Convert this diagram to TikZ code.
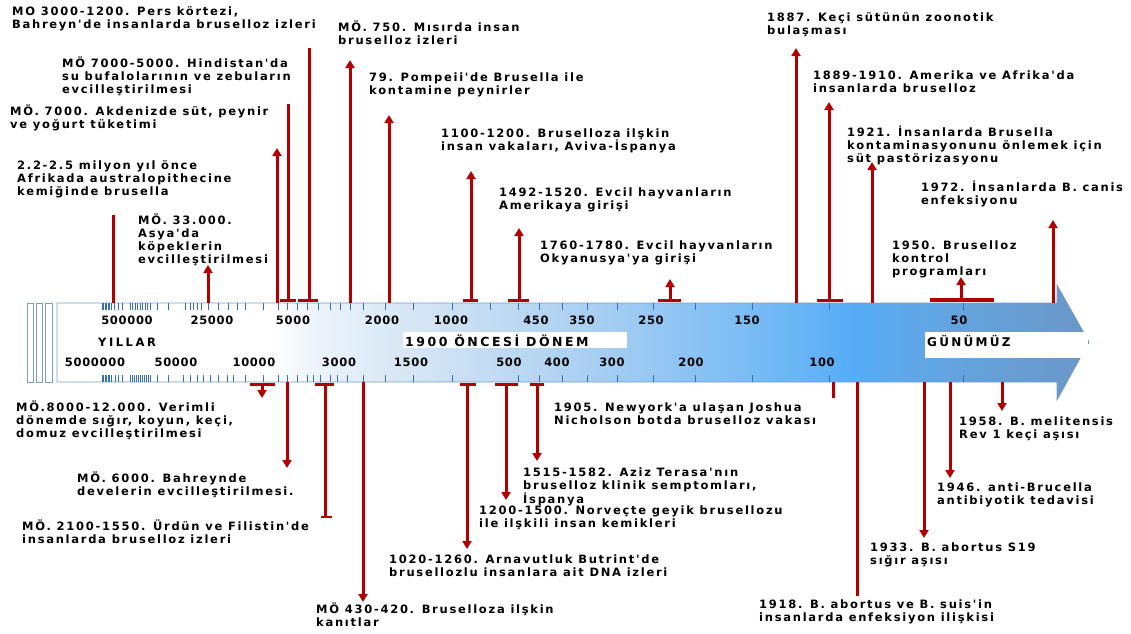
\documentclass[tikz,border=0pt]{standalone}
\usepackage{fontspec}
\setmainfont{DejaVu Sans}[Ligatures=TeXOff]
\newfontfamily\lblfamily{DejaVu Sans}[LetterSpace=15,Ligatures=TeXOff]
\newfontfamily\tickfamily{DejaVu Sans}[LetterSpace=6,Ligatures=TeXOff]
\newfontfamily\yilfamily{DejaVu Sans}[LetterSpace=22,Ligatures=TeXOff]
\newfontfamily\capAfamily{DejaVu Sans}[LetterSpace=19,Ligatures=TeXOff]
\newfontfamily\capBfamily{DejaVu Sans}[LetterSpace=20,Ligatures=TeXOff]
\usetikzlibrary{arrows.meta}
\definecolor{evred}{RGB}{178,0,0}
\definecolor{tickblue}{RGB}{55,110,180}
\definecolor{barline}{RGB}{120,158,198}
\definecolor{sa}{RGB}{236,243,250}
\definecolor{sb}{RGB}{205,225,244}
\definecolor{sc}{RGB}{166,206,242}
\definecolor{sd}{RGB}{122,188,244}
\definecolor{se}{RGB}{86,173,247}
\definecolor{sf}{RGB}{100,164,224}
\definecolor{sg}{RGB}{106,150,198}
\pgfdeclarehorizontalshading{barshade}{100bp}{color(0bp)=(white); color(35.5bp)=(white); color(37.5bp)=(sa); color(44bp)=(sb); color(51.3bp)=(sc); color(58.5bp)=(sd); color(63.5bp)=(se); color(68.2bp)=(sf); color(75bp)=(sg); color(100bp)=(sg)}
\begin{document}
\begin{tikzpicture}[x=1pt,y=-1pt,
  lbl/.style={anchor=north west,inner sep=0pt,align=left,font=\lblfamily\bfseries\fontsize{11.5}{13}\selectfont},
  ticklbl/.style={anchor=center,inner sep=0pt,font=\tickfamily\bfseries\fontsize{11.5}{13}\selectfont},
  evline/.style={draw=evred,line width=3pt},
  evarrow/.style={draw=evred,line width=3pt,-{Triangle[width=9pt,length=8pt]}},
  tbar/.style={draw=evred,line width=3.2pt},
  tickmark/.style={draw=tickblue,line width=1pt}]
\useasboundingbox (0,0) rectangle (1131,633);
\fill[white] (0,0) rectangle (1131,633);
% --- timeline bar
\path[draw=barline,line width=0.8pt,shading=barshade]
  (57,303) -- (1057,303) -- (1057,285) -- (1089,342) -- (1057,400) -- (1057,382) -- (57,382) -- cycle;
\draw[barline,fill=white,line width=0.8pt] (27,303) rectangle (33,382);
\draw[barline,fill=white,line width=0.8pt] (36,303) rectangle (42,382);
\draw[barline,fill=white,line width=0.8pt] (45,303) rectangle (52,382);
% ticks
\foreach \t in {102,103.5,105,106.5,108,109.5,111,114,118,122,130,132.5,135,137.5,140,142.5,145,147.5,150,157,168,185,190,193,197,201,208,218,228,237,245,263,278,287,297,307,318,330,340,350,363,385,413,452,490,518,539,562,587,617,653,695,752,829,963}
  \draw[tickmark] (\t,303) -- (\t,310);
\foreach \t in {102,103.5,105,106.5,108,109.5,111,115,118,122,130,132,134,136,138,140,142,144,146,148,150,157,168,183,190,197,203,210,218,227,233,245,263,278,287,297,307,313,320,330,337,347,363,385,413,452,518,539,562,587,617,653,695,752,829,963}
  \draw[tickmark] (\t,375) -- (\t,382);
% tick labels
\node[ticklbl] (k1) at (127,320) {500000};
\node[ticklbl] (k2) at (212,320) {25000};
\node[ticklbl] (k3) at (293,320) {5000};
\node[ticklbl] (k4) at (382,320) {2000};
\node[ticklbl] (k5) at (451,320) {1000};
\node[ticklbl] (k6) at (536,320) {450};
\node[ticklbl] (k7) at (582,320) {350};
\node[ticklbl] (k8) at (651,320) {250};
\node[ticklbl] (k9) at (747,320) {150};
\node[ticklbl] (k10) at (959,320) {50};
\node[ticklbl] (m1) at (95,362) {5000000};
\node[ticklbl] (m2) at (176,362) {50000};
\node[ticklbl] (m3) at (254,362) {10000};
\node[ticklbl] (m4) at (339,362) {3000};
\node[ticklbl] (m5) at (411,362) {1500};
\node[ticklbl] (m6) at (509,362) {500};
\node[ticklbl] (m7) at (557,362) {400};
\node[ticklbl] (m8) at (612,362) {300};
\node[ticklbl] (m9) at (691,362) {200};
\node[ticklbl] (m10) at (822,362) {100};
\node[anchor=west,inner sep=0pt,font=\yilfamily\bfseries\fontsize{11.5}{13}\selectfont] (yil) at (98,342) {YILLAR};
\fill[white] (403,332) rectangle (627,348);
\node[anchor=west,inner sep=0pt,font=\capBfamily\bfseries\fontsize{12.5}{14}\selectfont] (once) at (405,341) {1900 ÖNCESİ DÖNEM};
\fill[white] (925,332) rectangle (1088,358);
\node[anchor=west,inner sep=0pt,font=\capAfamily\bfseries\fontsize{12}{14}\selectfont] (gun) at (927,341) {GÜNÜMÜZ};
% --- upper events
\coordinate (u1b) at (113,303); \coordinate (u1t) at (113,215);
\draw[evline] (u1b) -- (u1t);
\coordinate (u2b) at (208,303); \coordinate (u2t) at (208,265);
\draw[evarrow] (u2b) -- (u2t);
\coordinate (u3b) at (277,303); \coordinate (u3t) at (277,148);
\draw[evarrow] (u3b) -- (u3t);
\coordinate (u4b) at (288,300); \coordinate (u4t) at (288,104);
\coordinate (u4l) at (280,300.5); \coordinate (u4r) at (296,300.5);
\draw[evline] (u4b) -- (u4t); \draw[tbar] (u4l) -- (u4r);
\coordinate (u5b) at (309,300); \coordinate (u5t) at (309,48);
\coordinate (u5l) at (298,300.5); \coordinate (u5r) at (318,300.5);
\draw[evline] (u5b) -- (u5t); \draw[tbar] (u5l) -- (u5r);
\coordinate (u6b) at (350,303); \coordinate (u6t) at (350,60);
\draw[evarrow] (u6b) -- (u6t);
\coordinate (u7b) at (389,303); \coordinate (u7t) at (389,115);
\draw[evarrow] (u7b) -- (u7t);
\coordinate (u8b) at (471,300); \coordinate (u8t) at (471,171);
\coordinate (u8l) at (463,300.5); \coordinate (u8r) at (478,300.5);
\draw[evarrow] (u8b) -- (u8t); \draw[tbar] (u8l) -- (u8r);
\coordinate (u9b) at (519,300); \coordinate (u9t) at (519,228);
\coordinate (u9l) at (508,300.5); \coordinate (u9r) at (529,300.5);
\draw[evarrow] (u9b) -- (u9t); \draw[tbar] (u9l) -- (u9r);
\coordinate (u10b) at (670,300); \coordinate (u10t) at (670,279);
\coordinate (u10l) at (658,300.5); \coordinate (u10r) at (681,300.5);
\draw[evarrow] (u10b) -- (u10t); \draw[tbar] (u10l) -- (u10r);
\coordinate (u11b) at (796,303); \coordinate (u11t) at (796,48);
\draw[evarrow] (u11b) -- (u11t);
\coordinate (u12b) at (829,300); \coordinate (u12t) at (829,102);
\coordinate (u12l) at (817,300.5); \coordinate (u12r) at (843,300.5);
\draw[evarrow] (u12b) -- (u12t); \draw[tbar] (u12l) -- (u12r);
\coordinate (u13b) at (872,303); \coordinate (u13t) at (872,162);
\draw[evarrow] (u13b) -- (u13t);
\coordinate (u14b) at (961,300); \coordinate (u14t) at (961,277);
\coordinate (u14l) at (930,300); \coordinate (u14r) at (994,300);
\draw[evarrow] (u14b) -- (u14t); \draw[tbar,line width=4pt] (u14l) -- (u14r);
\coordinate (u15b) at (1053,303); \coordinate (u15t) at (1053,220);
\draw[evarrow] (u15b) -- (u15t);
% --- lower events
\coordinate (d1b) at (262,384); \coordinate (d1t) at (262,398);
\coordinate (d1l) at (250,384.5); \coordinate (d1r) at (275,384.5);
\draw[evarrow] (d1b) -- (d1t); \draw[tbar] (d1l) -- (d1r);
\coordinate (d2b) at (287,382); \coordinate (d2t) at (287,468);
\draw[evarrow] (d2b) -- (d2t);
\coordinate (d3b) at (325,384); \coordinate (d3t) at (325,518);
\coordinate (d3l) at (315,384.5); \coordinate (d3r) at (334,384.5);
\coordinate (d3el) at (321,517); \coordinate (d3er) at (332,517);
\draw[evline] (d3b) -- (d3t); \draw[tbar] (d3l) -- (d3r);
\draw[draw=evred,line width=2pt] (d3el) -- (d3er);
\coordinate (d4b) at (363,382); \coordinate (d4t) at (363,602);
\draw[evarrow] (d4b) -- (d4t);
\coordinate (d5b) at (467,384); \coordinate (d5t) at (467,549);
\coordinate (d5l) at (460,384.5); \coordinate (d5r) at (476,384.5);
\draw[evarrow] (d5b) -- (d5t); \draw[tbar] (d5l) -- (d5r);
\coordinate (d6b) at (506,384); \coordinate (d6t) at (506,500);
\coordinate (d6l) at (495,384.5); \coordinate (d6r) at (518,384.5);
\draw[evarrow] (d6b) -- (d6t); \draw[tbar] (d6l) -- (d6r);
\coordinate (d7b) at (537,384); \coordinate (d7t) at (537,461);
\coordinate (d7l) at (530,384.5); \coordinate (d7r) at (544,384.5);
\draw[evarrow] (d7b) -- (d7t); \draw[tbar] (d7l) -- (d7r);
\coordinate (d8b) at (833,382); \coordinate (d8t) at (833,398);
\draw[evline] (d8b) -- (d8t);
\coordinate (d9b) at (857,382); \coordinate (d9t) at (857,596);
\draw[evline] (d9b) -- (d9t);
\coordinate (d10b) at (924,382); \coordinate (d10t) at (924,538);
\draw[evarrow] (d10b) -- (d10t);
\coordinate (d11b) at (950,382); \coordinate (d11t) at (950,478);
\draw[evarrow] (d11b) -- (d11t);
\coordinate (d12b) at (1002,382); \coordinate (d12t) at (1002,411);
\draw[evarrow] (d12b) -- (d12t);
% --- upper labels
\node[lbl] (lpers) at (12,4) {\rule{0pt}{11pt}MO 3000-1200. Pers körtezi,\\Bahreyn'de insanlarda bruselloz izleri};
\node[lbl] (lmisir) at (338,20) {\rule{0pt}{11pt}MÖ. 750. Mısırda insan\\bruselloz izleri};
\node[lbl] (lhind) at (62,56) {\rule{0pt}{11pt}MÖ 7000-5000. Hindistan'da\\su bufalolarının ve zebuların\\evcilleştirilmesi};
\node[lbl] (lpomp) at (369,70) {\rule{0pt}{11pt}79. Pompeii'de Brusella ile\\kontamine peynirler};
\node[lbl] (lakd) at (10,104) {\rule{0pt}{11pt}MÖ. 7000. Akdenizde süt, peynir\\ve yoğurt tüketimi};
\node[lbl] (laviva) at (441,126) {\rule{0pt}{11pt}1100-1200. Bruselloza ilşkin\\insan vakaları, Aviva-İspanya};
\node[lbl] (lafr) at (17,158) {\rule{0pt}{11pt}2.2-2.5 milyon yıl önce\\Afrikada australopithecine\\kemiğinde brusella};
\node[lbl] (lamer) at (499,185) {\rule{0pt}{11pt}1492-1520. Evcil hayvanların\\Amerikaya girişi};
\node[lbl] (lasya) at (138,213) {\rule{0pt}{11pt}MÖ. 33.000.\\Asya'da\\köpeklerin\\evcilleştirilmesi};
\node[lbl] (lokya) at (540,238) {\rule{0pt}{11pt}1760-1780. Evcil hayvanların\\Okyanusya'ya girişi};
\node[lbl] (lkeci) at (767,10) {\rule{0pt}{11pt}1887. Keçi sütünün zoonotik\\bulaşması};
\node[lbl] (lamaf) at (813,68) {\rule{0pt}{11pt}1889-1910. Amerika ve Afrika'da\\insanlarda bruselloz};
\node[lbl] (lpast) at (847,125) {\rule{0pt}{11pt}1921. İnsanlarda Brusella\\kontaminasyonunu önlemek için\\süt pastörizasyonu};
\node[lbl] (lcanis) at (921,180) {\rule{0pt}{11pt}1972. İnsanlarda B. canis\\enfeksiyonu};
\node[lbl] (lkont) at (892,238) {\rule{0pt}{11pt}1950. Bruselloz\\kontrol\\programları};
% --- lower labels
\node[lbl] (lverim) at (16,400) {\rule{0pt}{11pt}MÖ.8000-12.000. Verimli\\dönemde sığır, koyun, keçi,\\domuz evcilleştirilmesi};
\node[lbl] (ldeve) at (77,471) {\rule{0pt}{11pt}MÖ. 6000. Bahreynde\\develerin evcilleştirilmesi.};
\node[lbl] (lurdun) at (22,519) {\rule{0pt}{11pt}MÖ. 2100-1550. Ürdün ve Filistin'de\\insanlarda bruselloz izleri};
\node[lbl] (l430) at (316,602) {\rule{0pt}{11pt}MÖ 430-420. Bruselloza ilşkin\\kanıtlar};
\node[lbl] (larna) at (389,552) {\rule{0pt}{11pt}1020-1260. Arnavutluk Butrint'de\\brusellozlu insanlara ait DNA izleri};
\node[lbl] (lnorv) at (479,503) {\rule{0pt}{11pt}1200-1500. Norveçte geyik brusellozu\\ile ilşkili insan kemikleri};
\node[lbl] (lteresa) at (523,465) {\rule{0pt}{11pt}1515-1582. Aziz Terasa'nın\\bruselloz klinik semptomları,\\İspanya};
\node[lbl] (lny) at (554,400) {\rule{0pt}{11pt}1905. Newyork'a ulaşan Joshua\\Nicholson botda bruselloz vakası};
\node[lbl] (lmel) at (959,414) {\rule{0pt}{11pt}1958. B. melitensis\\Rev 1 keçi aşısı};
\node[lbl] (lanti) at (937,480) {\rule{0pt}{11pt}1946. anti-Brucella\\antibiyotik tedavisi};
\node[lbl] (ls19) at (870,540) {\rule{0pt}{11pt}1933. B. abortus S19\\sığır aşısı};
\node[lbl] (lsuis) at (759,597) {\rule{0pt}{11pt}1918. B. abortus ve B. suis'in\\insanlarda enfeksiyon ilişkisi};
\end{tikzpicture}
\end{document}
